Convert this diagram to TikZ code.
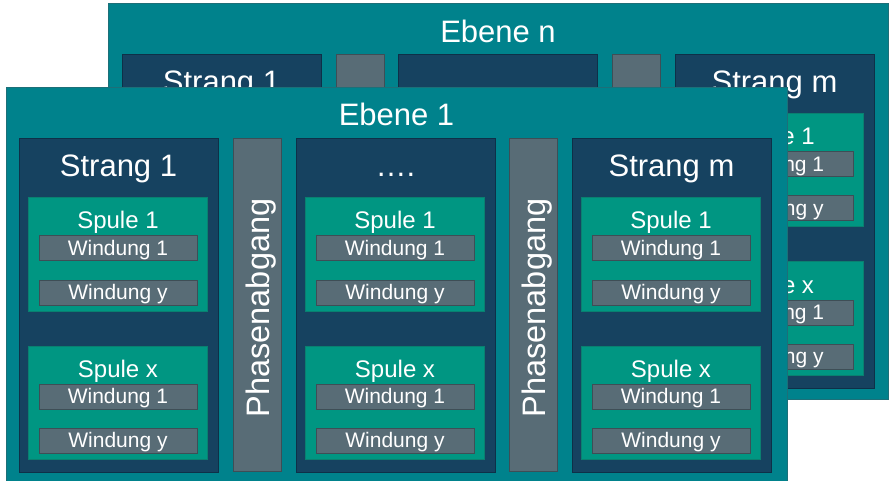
\documentclass[tikz,border=0pt]{standalone}
\usepackage{fontspec}
\setmainfont{Liberation Sans}
\definecolor{layerC}{HTML}{00828C}
\definecolor{layerD}{HTML}{1D6F78}
\definecolor{strangC}{HTML}{164260}
\definecolor{strangD}{HTML}{0E3048}
\definecolor{spuleC}{HTML}{009682}
\definecolor{spuleD}{HTML}{0A8070}
\definecolor{greyC}{HTML}{586C76}
\definecolor{greyD}{HTML}{3E4E56}
\tikzset{
  box/.style={rectangle, anchor=north west, inner sep=0pt, outer sep=0pt, line width=1pt},
  layerbox/.style={box, fill=layerC, draw=layerD},
  strangbox/.style={box, fill=strangC, draw=strangD},
  spulebox/.style={box, fill=spuleC, draw=spuleD},
  greybox/.style={box, fill=greyC, draw=greyD},
  txt/.style={text=white, anchor=base, inner sep=0pt},
  bigtxt/.style={txt, font=\fontsize{31}{31}\selectfont},
  phasetxt/.style={txt, font=\fontsize{32.5}{32.5}\selectfont},
  midtxt/.style={txt, font=\fontsize{24}{24}\selectfont},
  smalltxt/.style={txt, font=\fontsize{21}{21}\selectfont},
}
\newcommand\windbx[4]{%
  \node[greybox, minimum width=158pt, minimum height=25pt] (#1) at (#2,#3) {};
  \node[smalltxt] (#1t) at (#2+79,#3+19.5) {#4};
}
\newcommand\spulebx[4]{%
  \node[spulebox, minimum width=179pt, minimum height=113pt] (#1) at (#2,#3) {};
  \node[midtxt] (#1t) at (#2+89.5,#3+31) {#4};
  \windbx{#1wa}{#2+10.5}{#3+38}{Windung 1}
  \windbx{#1wb}{#2+10.5}{#3+82}{Windung y}
}
\newcommand\strangbx[4]{%
  \node[strangbox, minimum width=199pt, minimum height=333pt] (#1) at (#2,#3) {};
  \node[bigtxt] (#1t) at (#2+99.5,#3+38) {#4};
  \spulebx{#1a}{#2+9.5}{#3+59}{Spule 1}
  \spulebx{#1b}{#2+9.5}{#3+207}{Spule x}
}
\newcommand\phasebx[3]{%
  \node[greybox, minimum width=48pt, minimum height=332pt] (#1) at (#2,#3) {};
  \node[phasetxt, rotate=90] (#1t) at (#2+36.5,#3+169) {Phasenabgang};
}
\begin{document}
\begin{tikzpicture}[x=1pt,y=-1pt]
\useasboundingbox (0,0) rectangle (889,481);
% back layer (Ebene n)
\node[layerbox, minimum width=780pt, minimum height=395pt] (ebn) at (108,4) {};
\node[bigtxt] (ebnt) at (498,42.5) {Ebene n};
\node[strangbox, minimum width=199pt, minimum height=333pt] (bs1) at (122,55) {};
\node[bigtxt] (bs1t) at (221.5,93) {Strang 1};
\node[greybox, minimum width=48pt, minimum height=332pt] (bp1) at (336,55) {};
\node[strangbox, minimum width=199pt, minimum height=333pt] (bs2) at (398,55) {};
\node[greybox, minimum width=48pt, minimum height=332pt] (bp2) at (612,55) {};
\strangbx{bs3}{675}{55}{Strang m}
% front layer (Ebene 1)
\node[layerbox, minimum width=781pt, minimum height=400pt] (eb1) at (6,88) {};
\node[bigtxt] (eb1t) at (396.5,126) {Ebene 1};
\strangbx{s1}{19}{139}{Strang 1}
\phasebx{p1}{233}{139}
\strangbx{s2}{296}{139}{….}
\phasebx{p2}{509}{139}
\strangbx{s3}{572}{139}{Strang m}
\end{tikzpicture}
\end{document}
